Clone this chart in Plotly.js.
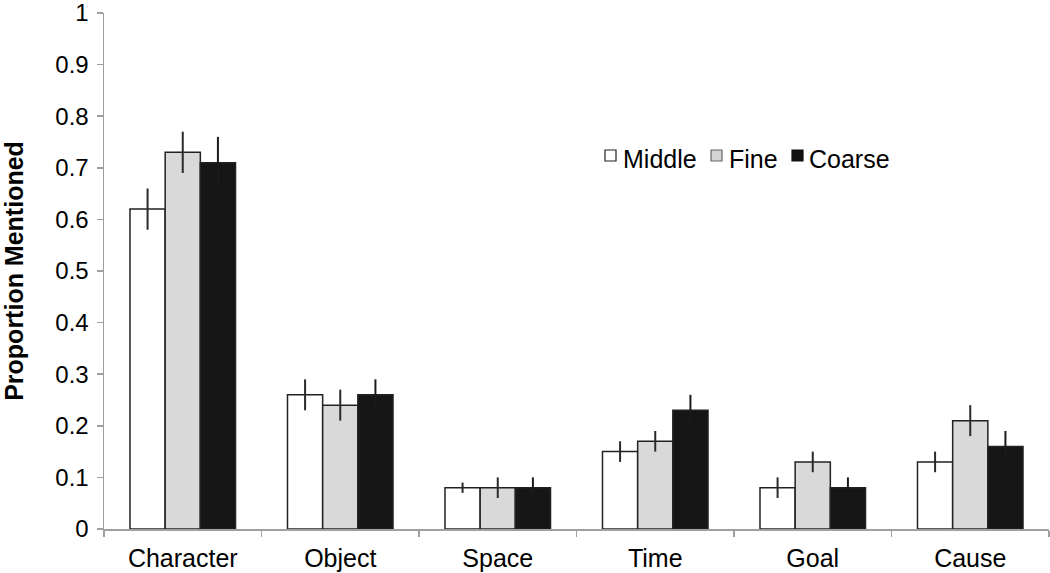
<!DOCTYPE html>
<html>
<head>
<meta charset="utf-8">
<script src="https://cdn.plot.ly/plotly-3.0.1.min.js"></script>
<style>html,body{margin:0;padding:0;background:#fff;}#chart{width:1050px;height:573px;}</style>
</head>
<body>
<div id="chart"></div>
<script>
const categories = ["Character", "Object", "Space", "Time", "Goal", "Cause"];
const seriesNames = ["Middle", "Fine", "Coarse"];
const middleValues = [0.62, 0.26, 0.08, 0.15, 0.08, 0.13];
const fineValues   = [0.73, 0.24, 0.08, 0.17, 0.13, 0.21];
const coarseValues = [0.71, 0.26, 0.08, 0.23, 0.08, 0.16];
const middleErrors = [0.04, 0.03, 0.01, 0.02, 0.02, 0.02];
const fineErrors   = [0.04, 0.03, 0.02, 0.02, 0.02, 0.03];
const coarseErrors = [0.05, 0.03, 0.02, 0.03, 0.02, 0.03];
const yTickValues = [0, 0.1, 0.2, 0.3, 0.4, 0.5, 0.6, 0.7, 0.8, 0.9, 1];
const yTickLabels = ["0", "0.1", "0.2", "0.3", "0.4", "0.5", "0.6", "0.7", "0.8", "0.9", "1"];

const fills = ["#ffffff", "#d9d9d9", "#161616"];
const errorColors = ["#2a2a2a", "#2a2a2a", "#1a1a1a"];
const valuesList = [middleValues, fineValues, coarseValues];
const errorsList = [middleErrors, fineErrors, coarseErrors];

const FONT = "Liberation Sans, Arial, Helvetica, sans-serif";

const traces = seriesNames.map((name, i) => ({
  type: "bar",
  name: name,
  x: categories,
  y: valuesList[i],
  marker: { color: fills[i], line: { color: "#222222", width: 1.5 } },
  error_y: { type: "data", array: errorsList[i], visible: true, color: errorColors[i], thickness: 2, width: 0 },
  showlegend: false,
  hoverinfo: "x+y"
}));

// Legend drawn as paper-space shapes + annotations
const W0 = 104, W1 = 1049, Y0 = 529, Y1 = 13;
const px = v => (v - W0) / (W1 - W0);
const py = v => (Y0 - v) / (Y0 - Y1);
const boxLeft = [605, 711, 792];
const textLeft = [621, 727, 807];
const boxBorder = ["#222222", "#666666", "#111111"];
const legendFill = ["#ffffff", "#d4d4d4", "#111111"];
const shapes = seriesNames.map((n, i) => ({
  type: "rect", xref: "paper", yref: "paper",
  x0: px(boxLeft[i]), x1: px(boxLeft[i] + 11),
  y0: py(161), y1: py(150),
  fillcolor: legendFill[i], line: { color: boxBorder[i], width: 1.2 }
}));
const annotations = seriesNames.map((n, i) => ({
  xref: "paper", yref: "paper",
  x: px(textLeft[i]), y: py(159),
  xanchor: "left", yanchor: "middle",
  text: n, showarrow: false,
  font: { family: FONT, size: 25, color: "#000" }
}));

const layout = {
  width: 1050, height: 573,
  margin: { l: W0, r: 1050 - W1, t: Y1, b: 573 - Y0, pad: 0 },
  paper_bgcolor: "#ffffff", plot_bgcolor: "#ffffff",
  barmode: "group", bargap: 0.33, bargroupgap: 0,
  font: { family: FONT, color: "#000" },
  xaxis: {
    type: "category",
    tickson: "boundaries",
    ticks: "outside", ticklen: 6, tickwidth: 1.5, tickcolor: "#a0a0a0",
    showline: true, linecolor: "#a0a0a0", linewidth: 1.5,
    showgrid: false, zeroline: false,
    tickfont: { family: FONT, size: 25, color: "#000" },
    ticklabelstandoff: 6,
    automargin: false
  },
  yaxis: {
    range: [0, 1],
    tickvals: yTickValues, ticktext: yTickLabels,
    ticks: "outside", ticklen: 6, tickwidth: 1.5, tickcolor: "#a0a0a0",
    showline: true, linecolor: "#a0a0a0", linewidth: 1.5,
    showgrid: false, zeroline: false,
    tickfont: { family: FONT, size: 24, color: "#000" },
    ticklabelstandoff: 3,
    ticklabeloverflow: "allow",
    title: { text: "Proportion Mentioned", font: { family: FONT, size: 25, color: "#000", weight: "bold" }, standoff: 25 },
    automargin: false
  },
  shapes: shapes,
  annotations: annotations,
  showlegend: false
};

Plotly.newPlot("chart", traces, layout, { displayModeBar: false, staticPlot: true });
</script>
</body>
</html>
